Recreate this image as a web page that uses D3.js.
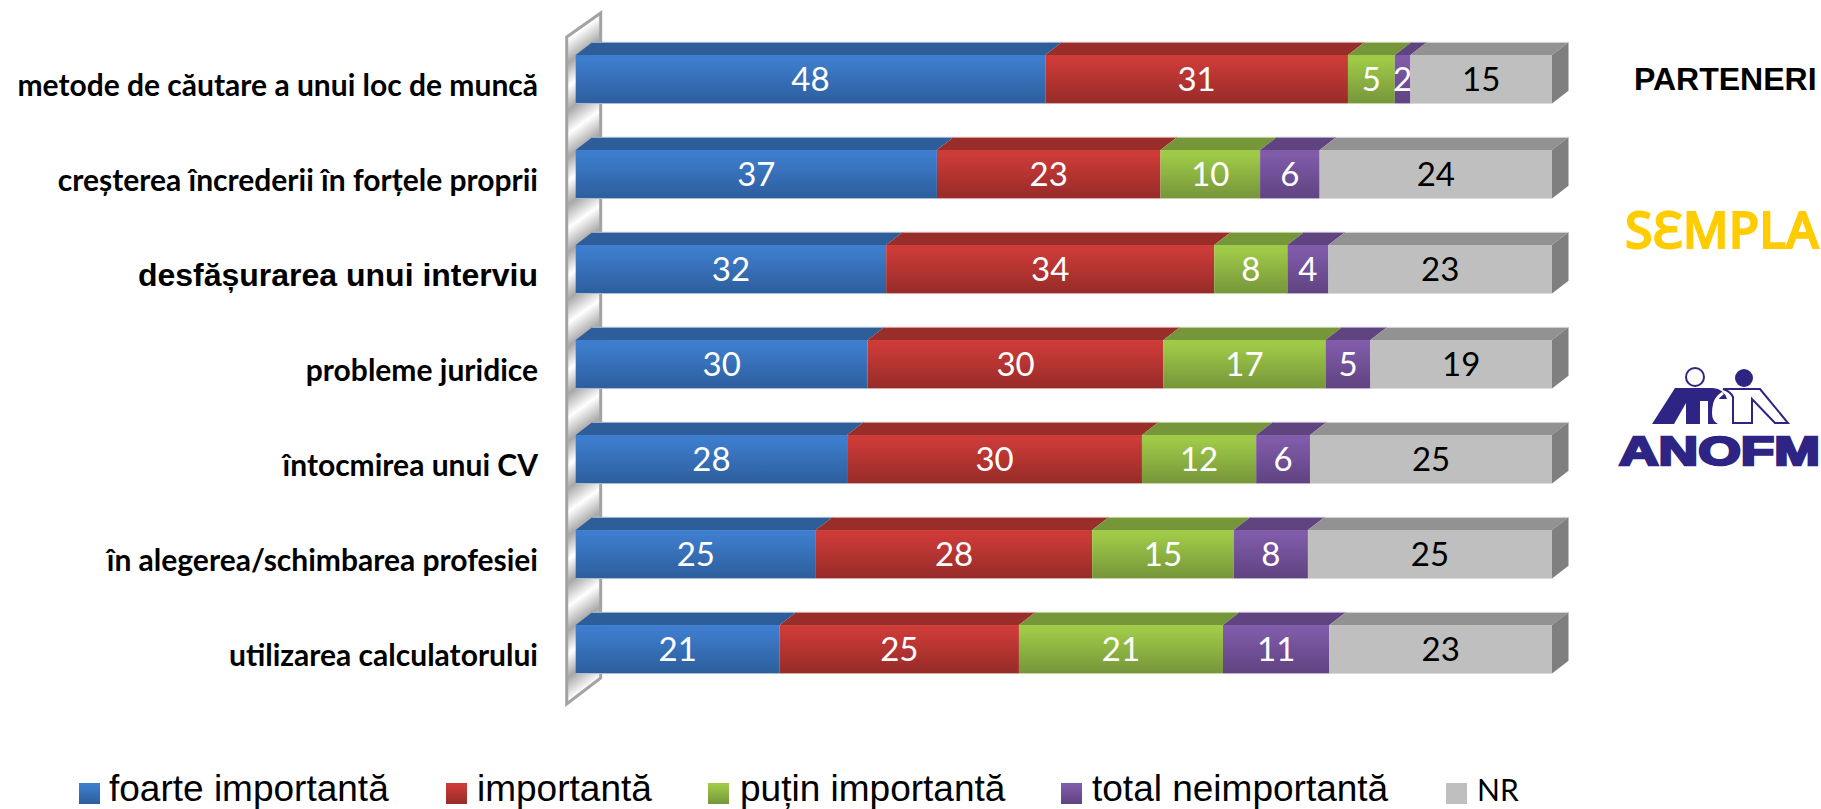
<!DOCTYPE html>
<html>
  <head>
    <meta charset="UTF-8">
    <script src="https://d3js.org/d3.v7.min.js" charset="utf-8"></script>
    <style>
      html, body { margin: 0; padding: 0; background: #fff; }
      svg { display: block; }
      .value { font-family: Lato, sans-serif; font-size: 33px; text-anchor: middle; }
      .legend { font-family: "Liberation Sans", Arial, sans-serif; font-size: 37px; }
    </style>
    <title>parteneri</title>
  </head>
  <body>
    <svg class="chart"></svg>
    <script type="text/javascript">

      var categories = ["metode de căutare a unui loc de muncă",
                        "creșterea încrederii în forțele proprii",
                        "desfășurarea unui interviu",
                        "probleme juridice",
                        "întocmirea unui CV",
                        "în alegerea/schimbarea profesiei",
                        "utilizarea calculatorului"];

      var seriesNames = ["foarte importantă", "importantă", "puțin importantă", "total neimportantă", "NR"];

      var foarteImportanta = [48.1, 37.0, 31.8, 29.9, 27.8, 24.6, 20.9];
      var importanta       = [31.0, 22.9, 33.6, 30.3, 30.2, 28.3, 24.5];
      var putinImportanta  = [4.8, 10.2, 7.5, 16.6, 11.7, 14.5, 20.9];
      var totalNeimportanta = [1.6, 6.1, 4.2, 4.6, 5.51, 7.6, 10.9];
      var nr               = [14.5, 23.8, 22.9, 18.6, 24.8, 25.0, 22.8];

      var seriesValues = [foarteImportanta, importanta, putinImportanta, totalNeimportanta, nr];

      var frontTop    = ["#3e7dcd", "#cd3b38", "#9fca48", "#805ba9", "#bfbfbf"],
          frontBottom = ["#2c5e9c", "#962b28", "#76953a", "#5f4381", "#bfbfbf"],
          topFace     = ["#2e5e99", "#982d2a", "#76963a", "#60447f", "#929292"],
          rimColor    = ["#a9bdd6", "#dca9a7", "#c6d6a6", "#bcaed0", "#d9d9d9"],
          labelColor  = ["#fff", "#fff", "#fff", "#fff", "#000"];

      var width = 1821,
          height = 809,
          depthX = 16.5,
          depthY = 12.7;

      var rows = categories.map(function(c, i) {
          var row = {category: c};
          seriesNames.forEach(function(s, j) { row[s] = seriesValues[j][i]; });
          return row;
      });

      var x = d3.scaleLinear().domain([0, 100]).range([575.7, 1552]);

      var y = d3.scaleBand().domain(categories).range([55, 673.5]).paddingInner(0.49);

      var stacked = d3.stack().keys(seriesNames)(rows);

      var chart = d3.select(".chart")
          .attr("width", width)
          .attr("height", height);

      var defs = chart.append("defs");

      seriesNames.forEach(function(s, i) {
          var g = defs.append("linearGradient")
              .attr("id", "front" + i)
              .attr("x1", 0).attr("y1", 0).attr("x2", 0).attr("y2", 1);
          g.append("stop").attr("offset", "0.1").attr("stop-color", frontTop[i]);
          g.append("stop").attr("offset", "1").attr("stop-color", frontBottom[i]);
      });

      var wallFill = defs.append("linearGradient")
          .attr("id", "wallFill")
          .attr("gradientUnits", "userSpaceOnUse")
          .attr("spreadMethod", "reflect")
          .attr("x1", 583).attr("y1", 123).attr("x2", 594.2).attr("y2", 138.6);
      wallFill.append("stop").attr("offset", "0").attr("stop-color", "#ffffff");
      wallFill.append("stop").attr("offset", "1").attr("stop-color", "#a8a8a8");

      // back wall behind the bars
      var wallLeft = x(0) - 9, wallRight = x(0) + depthX + 8.5;
      chart.append("path")
          .attr("d", d3.line()([[wallLeft, 37], [wallRight, 13], [wallRight, 678], [wallLeft, 704]]) + "Z")
          .attr("fill", "url(#wallFill)")
          .attr("stroke", "#a3a3a3")
          .attr("stroke-width", 3);

      var segments = chart.append("g").attr("class", "bars")
          .selectAll("g")
          .data(stacked)
          .enter().append("g");

      var cells = segments.selectAll("g")
          .data(function(d, i) { return d.map(function(p) { return {s: i, p: p}; }); })
          .enter().append("g");

      // top face
      cells.append("path")
          .attr("fill", function(d) { return topFace[d.s]; })
          .attr("d", function(d) {
              var x0 = x(d.p[0]), x1 = x(d.p[1]), yt = y(d.p.data.category);
              return d3.line()([[x0, yt], [x0 + depthX, yt - depthY], [x1 + depthX, yt - depthY], [x1, yt]]) + "Z";
          });

      // front face
      cells.append("rect")
          .attr("x", function(d) { return x(d.p[0]); })
          .attr("y", function(d) { return y(d.p.data.category); })
          .attr("width", function(d) { return x(d.p[1]) - x(d.p[0]); })
          .attr("height", y.bandwidth())
          .attr("fill", function(d) { return "url(#front" + d.s + ")"; });

      // pale rim along the top and bottom of each bar
      cells.append("line")
          .attr("x1", function(d) { return x(d.p[0]) + depthX; })
          .attr("x2", function(d) { return x(d.p[1]) + depthX; })
          .attr("y1", function(d) { return y(d.p.data.category) - depthY; })
          .attr("y2", function(d) { return y(d.p.data.category) - depthY; })
          .attr("stroke", function(d) { return rimColor[d.s]; });

      cells.append("line")
          .attr("x1", function(d) { return x(d.p[0]); })
          .attr("x2", function(d) { return x(d.p[1]); })
          .attr("y1", function(d) { return y(d.p.data.category) + y.bandwidth(); })
          .attr("y2", function(d) { return y(d.p.data.category) + y.bandwidth(); })
          .attr("stroke", function(d) { return rimColor[d.s]; });

      // right end of the last series
      chart.append("g").selectAll("path")
          .data(categories)
          .enter().append("path")
          .attr("fill", "#7f7f7f")
          .attr("d", function(c) {
              var xe = x(100), yt = y(c);
              return d3.line()([[xe, yt], [xe + depthX, yt - depthY], [xe + depthX, yt + y.bandwidth() - depthY], [xe, yt + y.bandwidth()]]) + "Z";
          });

      cells.append("text")
          .attr("class", "value")
          .attr("x", function(d) { return (x(d.p[0]) + x(d.p[1])) / 2; })
          .attr("y", function(d) { return y(d.p.data.category) + y.bandwidth() / 2 + 12; })
          .attr("fill", function(d) { return labelColor[d.s]; })
          .text(function(d) { return d3.format(".0f")(d.p[1] - d.p[0]); });

      // category labels
      var yAxis = chart.append("g")
          .attr("transform", "translate(538,0)")
          .call(d3.axisLeft(y).tickSize(0).tickPadding(0));

      yAxis.select(".domain").remove();

      yAxis.selectAll("text")
          .attr("dy", 0)
          .attr("y", 17)
          .attr("fill", "#000")
          .style("font-family", function(c, i) { return i === 2 ? "'Liberation Sans', Arial, sans-serif" : "Lato, sans-serif"; })
          .style("font-weight", "bold")
          .style("font-size", function(c, i) { return i === 2 ? "32px" : "30px"; });

      // legend
      var legendSwatch = [79, 446, 708, 1061, 1446],
          legendText = [109, 477, 740, 1092, 1477];

      var legend = chart.append("g").selectAll("g")
          .data(seriesNames)
          .enter().append("g");

      legend.append("rect")
          .attr("x", function(d, i) { return legendSwatch[i]; })
          .attr("y", 783)
          .attr("width", 21)
          .attr("height", 21)
          .attr("fill", function(d, i) { return "url(#front" + i + ")"; });

      legend.append("text")
          .attr("class", "legend")
          .attr("x", function(d, i) { return legendText[i]; })
          .attr("y", 801)
          .style("font-family", function(d) { return d === "NR" ? "Lato, sans-serif" : null; })
          .style("font-size", function(d) { return d === "NR" ? "30px" : null; })
          .text(function(d) { return d; });

      // partner logos
      chart.append("text")
          .attr("x", 1634).attr("y", 90)
          .style("font-family", "'Liberation Sans', Arial, sans-serif")
          .style("font-weight", "bold")
          .style("font-size", "32px")
          .text("PARTENERI");

      chart.append("text")
          .attr("x", 1625).attr("y", 248)
          .attr("fill", "#ffcc00")
          .attr("stroke", "#ffcc00")
          .attr("stroke-width", 1.8)
          .style("font-family", "'Noto Sans', sans-serif")
          .style("font-weight", "500")
          .style("font-size", "50px")
          .text("SƐMPLA");

      var logo = chart.append("g").attr("fill", "#2e2483");

      logo.append("circle").attr("cx", 1695).attr("cy", 377).attr("r", 9)
          .attr("fill", "#fff").attr("stroke", "#2e2483").attr("stroke-width", 2);
      logo.append("circle").attr("cx", 1744).attr("cy", 378).attr("r", 9);

      // left figure, solid
      logo.append("path")
          .attr("d", "M1675,388 L1713,388 Q1724,389 1727,399 L1718,399 Q1712,401 1712,413 Q1712,421 1718,424 L1708,424 L1708,401 L1700,401 L1700,424 L1686,424 L1686,403 L1674,424 L1652,424 Z");

      // right figure, outline
      logo.append("path")
          .attr("d", "M1723,389 L1760,389 L1788,423 L1775,423 L1752,399 L1752,423 L1733,423 L1733,397 Q1730,391 1723,389 Z")
          .attr("fill", "#fff").attr("stroke", "#2e2483").attr("stroke-width", 2);

      // arm of the figures
      logo.append("path")
          .attr("d", "M1723,393 Q1711,401 1716,413 Q1720,422 1732,422")
          .attr("fill", "none").attr("stroke", "#fff").attr("stroke-width", 3);

      logo.append("text")
          .attr("x", 1619).attr("y", 465)
          .attr("textLength", 201)
          .attr("lengthAdjust", "spacingAndGlyphs")
          .attr("stroke", "#2e2483")
          .attr("stroke-width", 2.5)
          .style("font-family", "'Liberation Sans', Arial, sans-serif")
          .style("font-weight", "bold")
          .style("font-size", "40px")
          .text("ANOFM");

    </script>
  </body>
</html>
